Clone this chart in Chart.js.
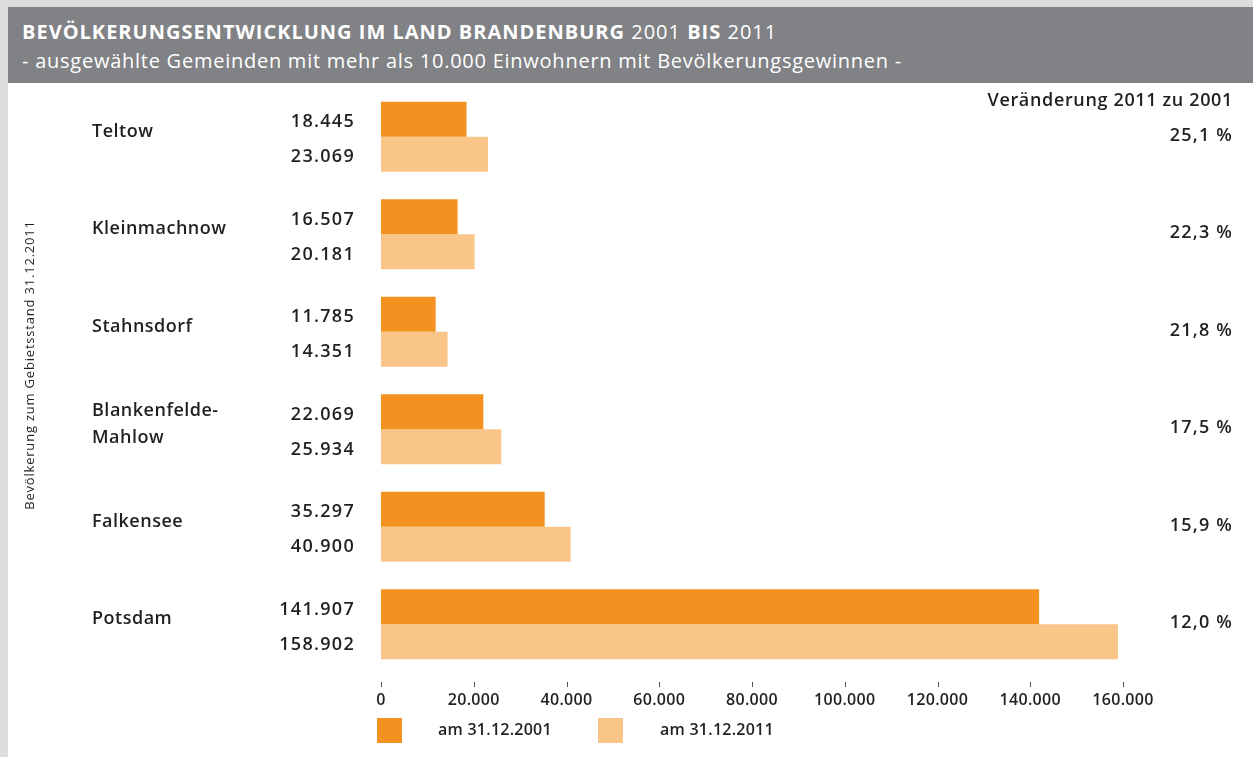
<!DOCTYPE html>
<html lang="de">
<head>
<meta charset="utf-8">
<title>Bevölkerungsentwicklung im Land Brandenburg 2001 bis 2011</title>
<script src="https://cdn.jsdelivr.net/npm/chart.js@4/dist/chart.umd.min.js"></script>
<style>
  html, body { margin: 0; padding: 0; }
  body { width: 1253px; height: 757px; background: #dcdddf; overflow: hidden; position: relative; font-family: "Open Sans", sans-serif; }
  .panel { position: absolute; left: 8px; top: 7px; width: 1245px; height: 750px; background: #fff; }
  .header { position: absolute; left: 8px; top: 7px; width: 1245px; height: 76px; background: #808285; color: #fff; }
  .header h1 { position: absolute; left: 14px; top: 11px; margin: 0; font: 700 20px "Open Sans", sans-serif; letter-spacing: 1px; white-space: nowrap; }
  .header h1 span { font-weight: 400; }
  .header p { position: absolute; left: 14px; top: 40px; margin: 0; font: 400 20px "Open Sans", sans-serif; letter-spacing: 0.75px; white-space: nowrap; }
  .wrap { position: absolute; left: 0; top: 0; width: 1253px; height: 757px; }
</style>
</head>
<body>
<div class="panel"></div>
<div class="header">
  <h1>BEVÖLKERUNGSENTWICKLUNG IM LAND BRANDENBURG <span>2001</span> BIS <span>2011</span></h1>
  <p>- ausgewählte Gemeinden mit mehr als 10.000 Einwohnern mit Bevölkerungsgewinnen -</p>
</div>
<div class="wrap"><canvas id="chart"></canvas></div>
<script>
const gemeinden = [["Teltow"], ["Kleinmachnow"], ["Stahnsdorf"], ["Blankenfelde-", "Mahlow"], ["Falkensee"], ["Potsdam"]];
const einwohner2001 = [18445, 16507, 11785, 22069, 35297, 141907];
const einwohner2011 = [23069, 20181, 14351, 25934, 40900, 158902];
const reihen = ["am 31.12.2001", "am 31.12.2011"];
const xTicks = [0, 20000, 40000, 60000, 80000, 100000, 120000, 140000, 160000];

const textColor = "#231f20";
const fmt = new Intl.NumberFormat("de-DE");
const pctFmt = new Intl.NumberFormat("de-DE", { minimumFractionDigits: 1, maximumFractionDigits: 1 });

// wider spacing for the axis tick labels, which Chart.js draws itself
const tickSpacing = {
  id: "tickSpacing",
  beforeDraw(chart) {
    chart.ctx.letterSpacing = "0.35px";
  },
};

// names, values, change column, legend and the rotated axis note
const beschriftung = {
  id: "beschriftung",
  afterDraw(chart) {
    const { ctx, chartArea } = chart;
    const x = chart.scales.x;
    const y = chart.scales.y;
    ctx.save();
    ctx.fillStyle = textColor;

    // small tick marks above the axis labels
    ctx.strokeStyle = "#555";
    ctx.lineWidth = 1;
    xTicks.forEach((v) => {
      const px = Math.round(x.getPixelForValue(v)) + 0.5;
      ctx.beginPath();
      ctx.moveTo(px, chartArea.bottom + 9);
      ctx.lineTo(px, chartArea.bottom + 14);
      ctx.stroke();
    });

    ctx.font = "600 18px 'Open Sans'";
    ctx.textBaseline = "middle";
    gemeinden.forEach((name, i) => {
      const cy = y.getPixelForValue(i);
      // category name
      ctx.textAlign = "left";
      ctx.letterSpacing = "0.5px";
      const lh = 27;
      name.forEach((line, j) => {
        ctx.fillText(line, 92, cy - 5 + (j - (name.length - 1) / 2) * lh);
      });

      // values next to the bars
      ctx.textAlign = "right";
      ctx.letterSpacing = "1.3px";
      chart.data.datasets.forEach((ds, d) => {
        const bar = chart.getDatasetMeta(d).data[i];
        ctx.fillText(fmt.format(ds.data[i]), 355, bar.y + 3);
      });

      // change 2011 vs 2001
      const pct = (einwohner2011[i] / einwohner2001[i] - 1) * 100;
      ctx.letterSpacing = "1.2px";
      ctx.fillText(pctFmt.format(pct) + " %", 1233, cy - 1);
    });

    ctx.letterSpacing = "0.65px";
    ctx.fillText("Veränderung 2011 zu 2001", 1233, 101);

    // legend
    ctx.font = "600 16px 'Open Sans'";
    ctx.letterSpacing = "0.25px";
    ctx.textAlign = "left";
    const legendX = [[377, 438], [598, 660]];
    chart.data.datasets.forEach((ds, d) => {
      ctx.fillStyle = ds.backgroundColor;
      ctx.fillRect(legendX[d][0], 718, 25, 25);
      ctx.fillStyle = textColor;
      ctx.fillText(ds.label, legendX[d][1], 730);
    });

    // rotated axis note
    ctx.font = "400 13px 'Open Sans'";
    ctx.letterSpacing = "0.8px";
    ctx.translate(30, 365);
    ctx.rotate(-Math.PI / 2);
    ctx.textAlign = "center";
    ctx.fillText("Bevölkerung zum Gebietsstand 31.12.2011", 0, 0);
    ctx.restore();
  },
};

new Chart(document.getElementById("chart"), {
  type: "bar",
  data: {
    labels: gemeinden.map((n) => n.join(" ")),
    datasets: [
      { label: reihen[0], data: einwohner2001, backgroundColor: "#f39220" },
      { label: reihen[1], data: einwohner2011, backgroundColor: "#fac589" },
    ],
  },
  options: {
    indexAxis: "y",
    animation: false,
    responsive: true,
    maintainAspectRatio: false,
    layout: { padding: { left: 381, right: 130, top: 88, bottom: 0 } },
    datasets: {
      bar: { categoryPercentage: 0.72, barPercentage: 1.0, borderWidth: 0 },
    },
    scales: {
      x: {
        min: 0,
        max: 160000,
        afterFit: (scale) => { scale.height = 84; },
        afterBuildTicks: (scale) => { scale.ticks = xTicks.map((v) => ({ value: v })); },
        grid: { display: false, drawTicks: false },
        border: { display: false },
        ticks: {
          padding: 18,
          color: textColor,
          font: { family: "Open Sans", size: 16, weight: "600" },
          maxRotation: 0,
          callback: (v) => fmt.format(v),
        },
      },
      y: { display: false },
    },
    plugins: {
      legend: { display: false },
      tooltip: { enabled: false },
    },
  },
  plugins: [tickSpacing, beschriftung],
});
</script>
</body>
</html>
